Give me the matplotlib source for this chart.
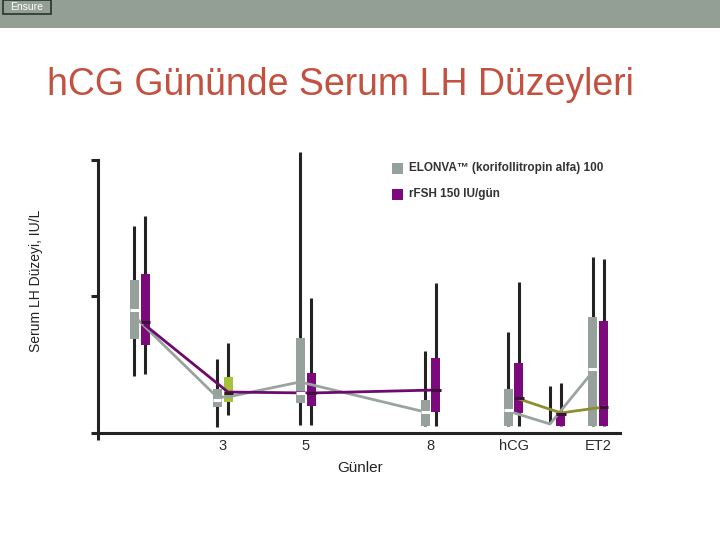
import matplotlib
matplotlib.use("Agg")
import matplotlib.pyplot as plt
from matplotlib.patches import Rectangle

plt.rcParams['font.family'] = ['Liberation Sans', 'DejaVu Sans']

# ---------------- data ----------------
categories = ["", "3", "5", "8", "hCG", "", "ET2"]
# group centre positions on the day axis (arbitrary units)
centers = [4.15, 12.45, 20.75, 33.25, 41.55, 45.75, 50.0]

# ELONVA (grey) box statistics
elonva_whi = [1.516, 0.542, 2.059, 0.601, 0.740, 0.344, 1.289]
elonva_q3  = [1.121, 0.322, 0.696, 0.242, 0.322, 0.073, 0.850]
elonva_med = [0.901, 0.242, 0.293, 0.154, 0.168, 0.073, 0.469]
elonva_q1  = [0.689, 0.190, 0.220, 0.051, 0.051, 0.073, 0.051]
elonva_wlo = [0.418, 0.044, 0.059, 0.051, 0.051, 0.073, 0.051]

# rFSH (purple) box statistics
rfsh_whi = [1.590, 0.659, 0.989, 1.099, 1.106, 0.366, 1.275]
rfsh_q3  = [1.165, 0.410, 0.440, 0.549, 0.513, 0.147, 0.821]
rfsh_med = [0.813, 0.293, 0.293, 0.315, 0.256, 0.139, 0.190]
rfsh_q1  = [0.645, 0.227, 0.198, 0.154, 0.147, 0.051, 0.051]
rfsh_wlo = [0.432, 0.132, 0.059, 0.051, 0.051, 0.051, 0.051]

# connecting lines (median trend)
grey_line1_vals = [0.857, 0.264, 0.264, 0.374, 0.154]
grey_line2_vals = [0.161, 0.066, 0.447]
purple_line_vals = [0.791, 0.300, 0.293, 0.315]
olive_line_vals = [0.249, 0.147, 0.190]

legend_labels = ["ELONVA\u2122 (korifollitropin alfa) 100", "rFSH 150 IU/g\u00fcn"]
title = "hCG G\u00fcn\u00fcnde Serum LH D\u00fczeyleri"
ylabel = "Serum LH D\u00fczeyi, IU/L"
xlabel = "G\u00fcnler"

# ---------------- style ----------------
GREY = "#97a19b"
PURPLE = "#7d0a7d"
GREEN = "#a6c23a"
OLIVE = "#8c8f2c"
DARK = "#232323"
off = 0.55
bw = 0.9

fig = plt.figure(figsize=(7.2, 5.4), dpi=100)
fig.patch.set_facecolor("white")

# header bar
fig.add_artist(Rectangle((0, 1 - 28/540), 1, 28/540, transform=fig.transFigure,
                         facecolor="#939e95", edgecolor="none"))
fig.add_artist(Rectangle((3/720, 1 - 14/540), 48/720, 13.5/540, transform=fig.transFigure,
                         facecolor="#939e95", edgecolor="#26342b", linewidth=1.2))
fig.text(27/720, 1 - 7.5/540, "Ensure", color="white", fontsize=7.5,
         ha="center", va="center")

fig.text(340/720, 1 - 85/540, title, color="#c4513f", fontsize=27,
         ha="center", va="center")

ax = fig.add_axes([98/720, 107/540, 522/720, 283/540])
ax.set_xlim(0, 52.2)
ax.set_ylim(0, 2.073)

gx = [c - off for c in centers]
px = [c + off for c in centers]
purple_colors = [PURPLE, GREEN, PURPLE, PURPLE, PURPLE, PURPLE, PURPLE]

# whiskers
ax.vlines(gx, elonva_wlo, elonva_whi, color=DARK, linewidth=2.2, zorder=2, clip_on=False)
ax.vlines(px, rfsh_wlo, rfsh_whi, color=DARK, linewidth=2.2, zorder=2, clip_on=False)

# boxes
eh = [a - b for a, b in zip(elonva_q3, elonva_q1)]
rh = [a - b for a, b in zip(rfsh_q3, rfsh_q1)]
ax.bar(gx, eh, bottom=elonva_q1, width=bw, color=GREY, zorder=3)
ax.bar(px, rh, bottom=rfsh_q1, width=bw, color=purple_colors, zorder=3)

# medians
for x, m, h in zip(gx, elonva_med, eh):
    if h > 0:
        ax.hlines(m, x - bw/2, x + bw/2, color="white", linewidth=2.2, zorder=5)
for x, m in zip(px, rfsh_med):
    ax.hlines(m, x - bw/2, x + bw/2, color="#3a123a", linewidth=2.2, zorder=5)

# trend lines
g1x = [gx[0], gx[1], px[1], gx[2], gx[3]]
ax.plot(g1x, grey_line1_vals, color="#9aa49e", linewidth=2.0, zorder=4)
ax.plot(gx[4:7], grey_line2_vals, color="#9aa49e", linewidth=2.0, zorder=4)
ax.plot(px[0:4], purple_line_vals, color="#6e0a6e", linewidth=2.0, zorder=4)
ax.plot(px[4:7], olive_line_vals, color=OLIVE, linewidth=2.0, zorder=4)

# axes styling
for s in ["top", "right"]:
    ax.spines[s].set_visible(False)
for s in ["left", "bottom"]:
    ax.spines[s].set_linewidth(2.2)
    ax.spines[s].set_color(DARK)
ax.spines["left"].set_bounds(0, 2)
ax.set_yticks([0, 1, 2])
ax.set_yticklabels([])
ax.tick_params(axis="y", length=5, width=2.2, color=DARK)
ax.set_xticks([0] + centers)
ax.set_xticklabels([""] + categories, fontsize=10.5, color="#2a2a2a")
ax.tick_params(axis="x", length=0, pad=4)
ax.vlines(0, -0.05, 0, color=DARK, linewidth=2.2, clip_on=False)

ax.set_ylabel(ylabel, fontsize=10, color="#222222", labelpad=0)
ax.yaxis.set_label_coords(-55/522, (433 - 281) / 283)
ax.set_xlabel(xlabel, fontsize=11, color="#222222")
ax.xaxis.set_label_coords((360 - 98) / 522, -(461 - 433) / 283)

# legend
for i, (lab, col) in enumerate(zip(legend_labels, [GREY, PURPLE])):
    yc = 168 + 26 * i
    fig.add_artist(Rectangle((392/720, 1 - (yc + 5.5)/540), 11/720, 11/540,
                             transform=fig.transFigure, facecolor=col, edgecolor="none"))
    fig.text(409/720, 1 - yc/540, lab, fontsize=8.5, color="#333333",
             ha="left", va="center", fontweight="bold")

fig.savefig("out.png", dpi=100)
